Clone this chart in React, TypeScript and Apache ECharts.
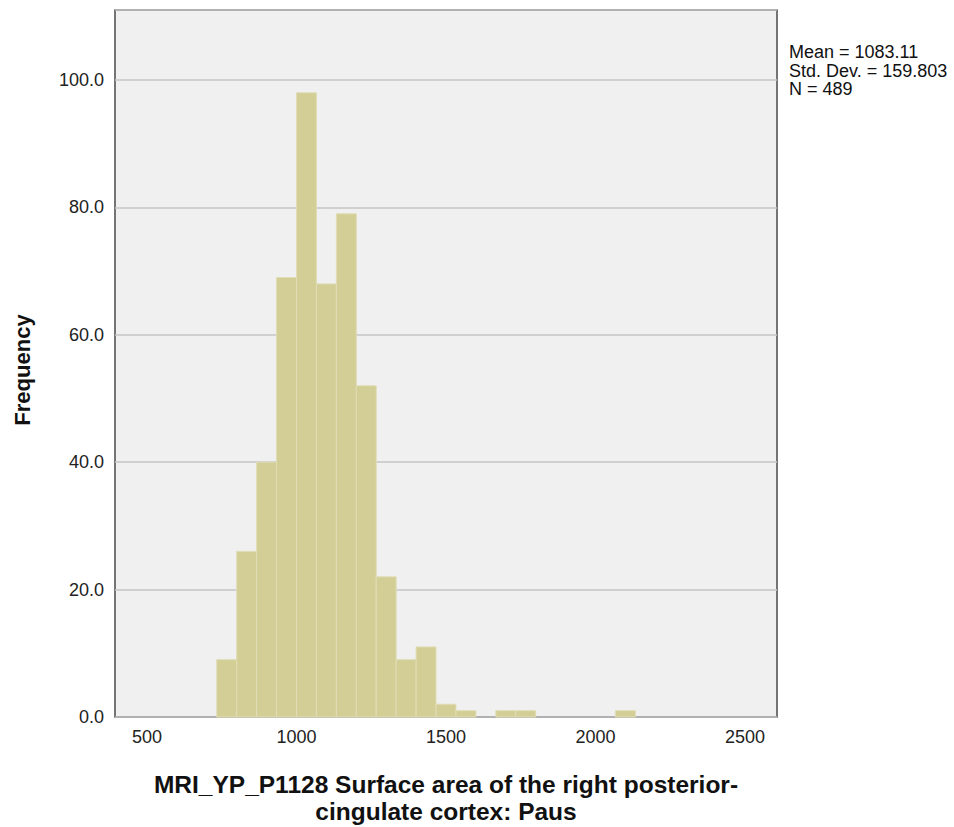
import React, { useEffect, useRef } from "react";
import * as echarts from "echarts";

const binEdges = [733.33, 800, 866.67, 933.33, 1000, 1066.67, 1133.33, 1200, 1266.67, 1333.33, 1400, 1466.67, 1533.33, 1600, 1666.67, 1733.33, 1800, 1866.67, 1933.33, 2000, 2066.67, 2133.33];
const counts = [9, 26, 40, 69, 98, 68, 79, 52, 22, 9, 11, 2, 1, 0, 1, 1, 0, 0, 0, 0, 1];
const xTickValues = [500, 1000, 1500, 2000, 2500];
const statsLines = ["Mean = 1083.11", "Std. Dev. = 159.803", "N = 489"];
const xTitle = "MRI_YP_P1128 Surface area of the right posterior-\ncingulate cortex: Paus";
const yTitle = "Frequency";

const FONT = "'Liberation Sans', Arial, sans-serif";

export default function App() {
  const ref = useRef<HTMLDivElement>(null);
  useEffect(() => {
    if (!ref.current) return;
    const chart = echarts.init(ref.current, null, { renderer: "svg" });
    const data = counts.map((c, i) => [binEdges[i], binEdges[i + 1], c]);
    chart.setOption({
      animation: false,
      backgroundColor: "#ffffff",
      textStyle: { fontFamily: FONT },
      grid: {
        left: 115,
        right: 177,
        top: 10,
        bottom: 110,
        containLabel: false,
        outerBoundsMode: "none",
        show: true,
        backgroundColor: "#f0f0f0",
        borderColor: "#4a4a4a",
        borderWidth: 1.5,
      },
      xAxis: {
        type: "value",
        min: 393,
        max: 2607,
        axisLine: { show: false },
        axisTick: { show: false },
        splitLine: { show: false },
        axisLabel: {
          customValues: xTickValues,
          fontSize: 18,
          color: "#222",
          margin: 11,
          fontFamily: FONT,
          formatter: (v: number) => String(v),
        },
        name: xTitle,
        nameLocation: "middle",
        nameGap: 54,
        nameTextStyle: {
          fontSize: 24.5,
          fontWeight: "bold",
          color: "#111",
          lineHeight: 27,
          align: "center",
          fontFamily: FONT,
        },
      },
      yAxis: {
        type: "value",
        min: 0,
        max: 111,
        interval: 20,
        axisLine: { show: false },
        axisTick: { show: false },
        splitLine: { show: true, lineStyle: { color: "#c6c6c6", width: 1.5 } },
        axisLabel: {
          fontSize: 18,
          color: "#222",
          margin: 11,
          fontFamily: FONT,
          formatter: (v: number) => (v % 20 === 0 ? v.toFixed(1) : ""),
        },
      },
      graphic: [
        {
          type: "text",
          left: 789,
          top: 43,
          style: {
            text: statsLines.join("\n"),
            fontSize: 18,
            lineHeight: 18.5,
            fill: "#111",
            fontFamily: FONT,
          },
        },
        {
          type: "text",
          x: 22,
          y: 370,
          rotation: Math.PI / 2,
          style: {
            text: yTitle,
            fontSize: 22,
            fontWeight: "bold",
            fill: "#111",
            fontFamily: FONT,
            align: "center",
            verticalAlign: "middle",
          },
        },
      ],
      series: [
        {
          type: "custom",
          data,
          encode: { x: [0, 1], y: 2 },
          renderItem: (params: any, api: any) => {
            if (!api.value(2)) return null;
            const p0 = api.coord([api.value(0), 0]);
            const p1 = api.coord([api.value(1), api.value(2)]);
            return {
              type: "rect",
              shape: { x: p0[0], y: p1[1], width: p1[0] - p0[0], height: p0[1] - p1[1] },
              style: { fill: "#d2ce96", stroke: "#e0ddb5", lineWidth: 1 },
            };
          },
        },
      ],
    });
    return () => chart.dispose();
  }, []);
  return <div ref={ref} style={{ width: 954, height: 827, position: "absolute", left: 0, top: 0 }} />;
}
